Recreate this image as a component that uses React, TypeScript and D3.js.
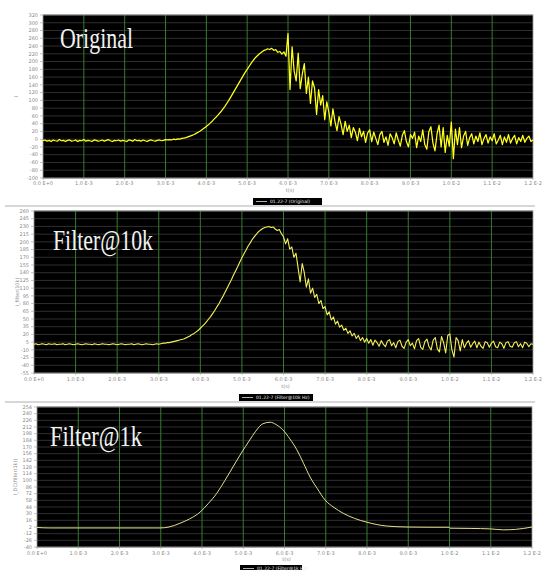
import React from 'react';
import * as d3 from 'd3';

// Sampling interval of the recorded traces, in milliseconds
const SAMPLE_MS = 0.05;

// Time axis (ms) and its labels, shared by all three panels
const xTickValues = [0, 1, 2, 3, 4, 5, 6, 7, 8, 9, 10, 11, 12];
const xTickLabels = [
  '0.0 E+0', '1.0 E-3', '2.0 E-3', '3.0 E-3', '4.0 E-3', '5.0 E-3', '6.0 E-3',
  '7.0 E-3', '8.0 E-3', '9.0 E-3', '1.0 E-2', '1.1 E-2', '1.2 E-2',
];

// Y ticks per panel
const originalTicks = [-100, -80, -60, -40, -20, 0, 20, 40, 60, 80, 100, 120, 140, 160, 180, 200, 220, 240, 260, 280, 300, 320];
const filter10kTicks = [-55, -40, -25, -10, 5, 20, 35, 50, 65, 80, 95, 110, 125, 140, 155, 170, 185, 200, 215, 230, 245, 260];
const filter1kTicks = [-40, -26, -12, 2, 16, 30, 44, 58, 72, 86, 100, 114, 128, 142, 156, 170, 184, 198, 212, 226, 240, 254];

// Raw signal, one value every SAMPLE_MS from 0 to 12 ms
const originalValues = [
  -4, -2, -5, -3, -6, -2, -4, -5, -1, -4,
  -3, -6, -3, -2, -5, -4, -2, -6, -3, -4,
  -1, -5, -3, -4, -6, -2, -3, -5, -4, -2,
  -5, -3, -1, -4, -6, -3, -4, -2, -5, -3,
  -4, -6, -2, -3, -5, -1, -4, -3, -5, -2,
  -4, -6, -3, -2, -4, -5, -3, -2, -4, -3,
  -1,
  -2, -1, -2, 0, -1, 1, 0, 2, 3, 4,
  6, 8, 10, 12, 15, 18, 21, 25, 29, 33,
  37, 42, 47, 53, 58, 64, 70, 77, 84, 92,
  100, 109, 118, 127, 136, 145, 154, 163, 172, 180,
  188, 196, 203, 210, 215, 220, 224, 228, 230, 233,
  231, 234, 229, 231, 224, 226, 219, 225, 214,
  272, 128, 238, 176, 150, 222, 130, 168, 195, 118,
  160, 92, 150, 132, 64, 128, 88, 112, 50, 96,
  70, 34, 78, 46, 22, 58, 38, 12, 46, 20,
  36, 4, 30, 18, -4, 28, 6, 20, -8, 16,
  24, -6, 18, 2, -14, 12, 20, -8, 6, -16,
  14, 4, -12, 16, -2, -18, 10, 22, -6, -20,
  12, 2, 18, -22, 8, -6, 24, -14, -26, 20,
  32, -10, -30, 14, 36, -20, 30, -34, 10, -18,
  44, -50, 26, -14, 30, -22, 8, 20, -16, 4,
  14, -12, 8, -6, 16, -14, 2, 12, -10, 6,
  -4, 14, -12, -2, 10, -14, 6, -8, 12, -10,
  2, 10, -12, 4, -6, 10, -8, 2, 8, -6,
  -2,
];

// 10 kHz low-pass output, same sampling
const filter10kValues = [
  1, 2, 0, 1, 2, 1, 0, 2, 1, 1,
  2, 0, 1, 1, 2, 0, 1, 2, 1, 0,
  1, 2, 1, 0, 1, 2, 1, 1, 0, 2,
  1, 0, 1, 2, 1, 1, 0, 1, 2, 1,
  0, 1, 2, 1, 0, 1, 1, 2, 0, 1,
  2, 1, 0, 1, 2, 1, 1, 0, 1, 2,
  1,
  2, 3, 3, 4, 4, 5, 6, 7, 8, 9,
  10, 11, 13, 15, 17, 20, 22, 25, 28, 32,
  36, 40, 45, 50, 55, 61, 67, 74, 80, 88,
  95, 103, 111, 119, 127, 136, 144, 152, 161, 169,
  177, 184, 192, 198, 205, 210, 215, 220, 223, 226,
  228, 229, 230, 228, 229, 225, 222, 224, 216,
  210, 196, 206, 186, 190, 170, 178, 150, 122, 158,
  140, 112, 128, 100, 110, 92, 98, 80, 86, 70,
  74, 58, 64, 48, 54, 40, 46, 34, 38, 28,
  32, 22, 27, 17, 22, 12, 18, 8, 14, 5,
  12, 3, 10, -1, 9, 4, -3, 8, 1, -4,
  7, 10, -2, 4, -6, 6, 9, -3, -7, 5,
  10, -2, 3, -8, 8, 12, -5, -9, 6, 11,
  -4, -10, 9, 14, -8, -14, 16, 4, -16, 18,
  21, -10, -24, 14, 8, -12, 10, -6, 3, 8,
  -5, 2, 7, -6, 5, -3, -7, 6, 4, -5,
  3, 7, -4, -6, 5, 2, -7, 4, 6, -3,
  -5, 4, 6, -4, 2, -6, 5, 3, -4, 2,
  1,
];

// 1 kHz low-pass output, sampled at irregular times (ms)
const filter1kTimes = [0, 0.3, 1, 2, 2.98, 3.2, 3.47, 3.7, 3.95, 4.15, 4.36, 4.55, 4.75, 4.95, 5.16, 5.3, 5.48, 5.65, 5.8, 5.96, 6.13, 6.3, 6.46, 6.62, 6.8, 6.98, 7.2, 7.42, 7.7, 8.0, 8.48, 8.97, 9.5, 9.99, 10.01, 10.5, 11.0, 11.3, 11.6, 11.8, 12.0];
const filter1kValues = [1, 0, 0, 0, 0, 2, 10, 19, 33, 51, 73, 99, 128, 157, 185, 203, 219, 222, 217, 206, 187, 164, 136, 107, 82, 59, 43, 31, 20, 12, 4, 2, 1.5, 1.5, -0.5, -1, -2, -4, -3, -1, 2];

type Pt = [number, number];

const sampled = (vals: number[]): Pt[] => vals.map((v, i) => [i * SAMPLE_MS, v]);

interface PanelCfg {
  id: string;
  left: number; right: number; top: number; bottom: number;
  ticks: number[];
  data: Pt[];
  curve: d3.CurveFactory;
  stroke: string; strokeWidth: number;
  title: string; titleX: number; titleY: number; titleW: number;
  yLabel: string; yLabelX: number;
  xLabelY: number; unitY: number;
  legend: string; legendX: number; legendY: number; legendW: number;
}

const panels: PanelCfg[] = [
  {
    id: 'p1', left: 43, right: 533, top: 15, bottom: 178,
    ticks: originalTicks, data: sampled(originalValues), curve: d3.curveLinear,
    stroke: '#ffff1a', strokeWidth: 1.25, title: 'Original', titleX: 60, titleY: 48, titleW: 73,
    yLabel: 'I', yLabelX: 18, xLabelY: 185, unitY: 192,
    legend: '01.22-7 (Original)', legendX: 253, legendY: 198, legendW: 69,
  },
  {
    id: 'p2', left: 34, right: 533, top: 211, bottom: 373,
    ticks: filter10kTicks, data: sampled(filter10kValues), curve: d3.curveLinear,
    stroke: '#f4f05a', strokeWidth: 1.1, title: 'Filter@10k', titleX: 53, titleY: 250, titleW: 100,
    yLabel: 'I_filter(10k)', yLabelX: 19, xLabelY: 381, unitY: 388,
    legend: '01.22-7 (Filter@10k Hz)', legendX: 239, legendY: 394, legendW: 74,
  },
  {
    id: 'p3', left: 37, right: 532, top: 407, bottom: 547,
    ticks: filter1kTicks, data: filter1kTimes.map((t, i) => [t, filter1kValues[i]] as Pt),
    curve: d3.curveMonotoneX,
    stroke: '#e2df8a', strokeWidth: 1, title: 'Filter@1k', titleX: 50, titleY: 446, titleW: 92,
    yLabel: 'I_DC(filter(1k))', yLabelX: 17, xLabelY: 555, unitY: 561,
    legend: '01.22-7 (Filter@1k Hz)', legendX: 240, legendY: 565, legendW: 62,
  },
];

const SANS = "'DejaVu Sans'";
const SERIF = "'Liberation Serif'";

function Panel({ cfg }: { cfg: PanelCfg }) {
  const x = d3.scaleLinear().domain([0, 12]).range([cfg.left, cfg.right]);
  const lo = cfg.ticks[0];
  const hi = cfg.ticks[cfg.ticks.length - 1];
  const y = d3.scaleLinear().domain([lo, hi]).range([cfg.bottom, cfg.top]);
  const path = d3.line<Pt>().x((d) => x(d[0])).y((d) => y(d[1])).curve(cfg.curve)(cfg.data) || '';
  const midY = (cfg.top + cfg.bottom) / 2;
  return (
    <g>
      <defs>
        <clipPath id={`clip-${cfg.id}`}>
          <rect x={cfg.left} y={cfg.top} width={cfg.right - cfg.left} height={cfg.bottom - cfg.top} />
        </clipPath>
      </defs>
      <rect x={cfg.left} y={cfg.top} width={cfg.right - cfg.left} height={cfg.bottom - cfg.top} fill="#000" />
      {cfg.ticks.map((t) => (
        <line key={`h${t}`} x1={cfg.left} x2={cfg.right} y1={y(t)} y2={y(t)} stroke="#3b3b3b" strokeWidth={0.8} />
      ))}
      {xTickValues.slice(1, -1).map((t) => (
        <line key={`v${t}`} x1={x(t)} x2={x(t)} y1={cfg.top} y2={cfg.bottom} stroke="#357c2e" strokeWidth={1} />
      ))}
      <rect x={cfg.left} y={cfg.top} width={cfg.right - cfg.left} height={cfg.bottom - cfg.top}
        fill="none" stroke="#9a9a9a" strokeWidth={0.8} />
      <path d={path} fill="none" stroke={cfg.stroke} strokeWidth={cfg.strokeWidth} strokeLinejoin="round"
        clipPath={`url(#clip-${cfg.id})`} />
      {cfg.ticks.map((t) => (
        <g key={`yt${t}`}>
          <line x1={cfg.left - 3} x2={cfg.left} y1={y(t)} y2={y(t)} stroke="#9a9a9a" strokeWidth={0.6} />
          <text x={cfg.left - 5} y={y(t)} dy="0.35em" textAnchor="end"
            fontFamily={SANS} fontSize={5} fill="#8a8a8a">{t}</text>
        </g>
      ))}
      {xTickValues.map((t, i) => (
        <g key={`xt${t}`}>
          <line x1={x(t)} x2={x(t)} y1={cfg.bottom} y2={cfg.bottom + 2} stroke="#9a9a9a" strokeWidth={0.6} />
          <text x={x(t)} y={cfg.xLabelY} textAnchor="middle" fontFamily={SANS} fontSize={5} fill="#8a8a8a">
            {xTickLabels[i]}
          </text>
        </g>
      ))}
      <text x={(cfg.left + cfg.right) / 2 + 2} y={cfg.unitY} textAnchor="middle"
        fontFamily={SANS} fontSize={5} fill="#8a8a8a">t(s)</text>
      <text transform={`translate(${cfg.yLabelX},${midY}) rotate(-90)`} textAnchor="middle"
        fontFamily={SANS} fontSize={5} fill="#8a8a8a">
        {cfg.yLabel}
      </text>
      <text x={cfg.titleX} y={cfg.titleY} fill="#f2f2f2" fontFamily={SERIF} fontSize={30}
        textLength={cfg.titleW} lengthAdjust="spacingAndGlyphs">
        {cfg.title}
      </text>
      <rect x={cfg.legendX} y={cfg.legendY} width={cfg.legendW} height={7} fill="#000" />
      <line x1={cfg.legendX + 3} x2={cfg.legendX + 14} y1={cfg.legendY + 3.5} y2={cfg.legendY + 3.5}
        stroke="#ddd" strokeWidth={0.8} />
      <text x={cfg.legendX + 17} y={cfg.legendY + 5.2} fill="#e8e8e8" fontFamily={SANS} fontSize={4.5}>
        {cfg.legend}
      </text>
    </g>
  );
}

export default function App() {
  return (
    <svg width={542} height={570} style={{ position: 'absolute', left: 0, top: 0, background: '#fff' }}>
      <rect x={0} y={0} width={542} height={570} fill="#fff" />
      <line x1={5} x2={535} y1={206} y2={206} stroke="#b0b0b0" strokeWidth={1.2} />
      <line x1={5} x2={535} y1={402} y2={402} stroke="#b0b0b0" strokeWidth={1.2} />
      {panels.map((p) => (
        <Panel key={p.id} cfg={p} />
      ))}
    </svg>
  );
}
